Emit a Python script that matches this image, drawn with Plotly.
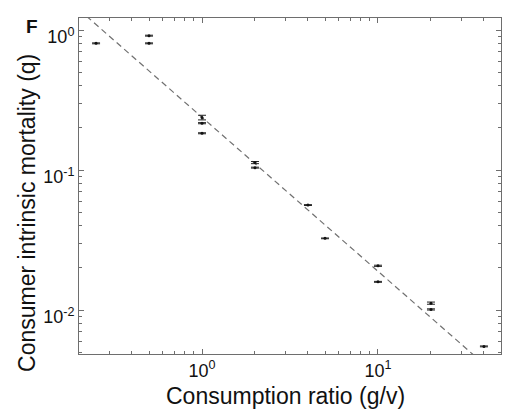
import plotly.graph_objects as go
import numpy as np

# Measured consumer mortality vs. consumption ratio
ratio = [0.25, 0.5, 0.5, 1, 1, 1, 2, 2, 4, 5, 10, 10, 20, 20, 40]
mortality = [0.803, 0.911, 0.803, 0.237, 0.216, 0.183, 0.113, 0.104,
             0.0562, 0.0325, 0.0207, 0.0159, 0.0112, 0.0101, 0.0055]
mortality_err = [0.006, 0.007, 0.006, 0.009, 0.002, 0.0015, 0.002, 0.0008,
                 0.0004, 0.0002, 0.0002, 0.00012, 0.0002, 0.0001, 0.00004]

# Power-law fit q = a * (g/v)^(-b)
fit_a = 0.238
fit_b = 1.1
fit_x = np.array([0.2, 50.0])
fit_y = fit_a * fit_x ** (-fit_b)

x_major = [1, 10]
x_major_text = ["10<sup>0</sup>", "10<sup>1</sup>"]
y_major = [0.01, 0.1, 1]
y_major_text = ["10<sup>-2</sup>", "10<sup>-1</sup>", "10<sup>0</sup>"]

x_minor = [m * d for d in (0.1, 1, 10) for m in range(2, 10)]
y_minor = [m * d for d in (0.001, 0.01, 0.1, 1) for m in range(2, 10)]

axis_color = "#6e6e6e"
font_family = "Liberation Sans, Arial, Helvetica, sans-serif"

fig = go.Figure()

fig.add_trace(go.Scatter(
    x=fit_x, y=fit_y, mode="lines",
    line=dict(color="#707070", width=1.2, dash="6px,4px"),
    hoverinfo="skip", showlegend=False,
))

fig.add_trace(go.Scatter(
    x=ratio, y=mortality, mode="markers",
    marker=dict(color="#111111", size=3),
    error_y=dict(type="data", array=mortality_err, visible=True,
                 color="#222222", thickness=1, width=4),
    showlegend=False,
))

fig.update_xaxes(
    type="log", range=[np.log10(0.2), np.log10(50)],
    showgrid=False, zeroline=False,
    showline=True, linecolor=axis_color, linewidth=1, mirror="ticks",
    ticks="inside", ticklen=5, tickcolor=axis_color,
    tickmode="array", tickvals=x_major, ticktext=x_major_text,
    tickfont=dict(family=font_family, size=18, color="#111111"),
    minor=dict(tickmode="array", tickvals=x_minor, ticks="inside",
               ticklen=3, tickcolor=axis_color, showgrid=False),
)
fig.update_yaxes(
    type="log", range=[-2.314, 0.0857],
    showgrid=False, zeroline=False,
    showline=True, linecolor=axis_color, linewidth=1, mirror="ticks",
    ticks="inside", ticklen=5, tickcolor=axis_color,
    tickmode="array", tickvals=y_major, ticktext=y_major_text,
    ticklabelshift=7,
    tickfont=dict(family=font_family, size=18, color="#111111"),
    minor=dict(tickmode="array", tickvals=y_minor, ticks="inside",
               ticklen=3, tickcolor=axis_color, showgrid=False),
)

fig.update_layout(
    width=506, height=410,
    margin=dict(l=79, r=5, t=18, b=56),
    paper_bgcolor="white", plot_bgcolor="white",
    font=dict(family=font_family, color="#111111"),
    annotations=[
        dict(text="Consumption ratio (g/v)", xref="paper", yref="paper",
             x=0.49, y=-0.125, xanchor="center", yanchor="middle",
             showarrow=False, font=dict(size=23, color="#111111")),
        dict(text="Consumer intrinsic mortality (q)", xref="paper", yref="paper",
             x=-0.123, y=0.42, xanchor="center", yanchor="middle",
             textangle=-90, showarrow=False,
             font=dict(size=23, color="#111111")),
        dict(text="<b>F</b>", xref="paper", yref="paper",
             x=-0.112, y=0.975, xanchor="center", yanchor="middle",
             showarrow=False, font=dict(size=19, color="#111111")),
    ],
)

fig.write_html("out.html")
